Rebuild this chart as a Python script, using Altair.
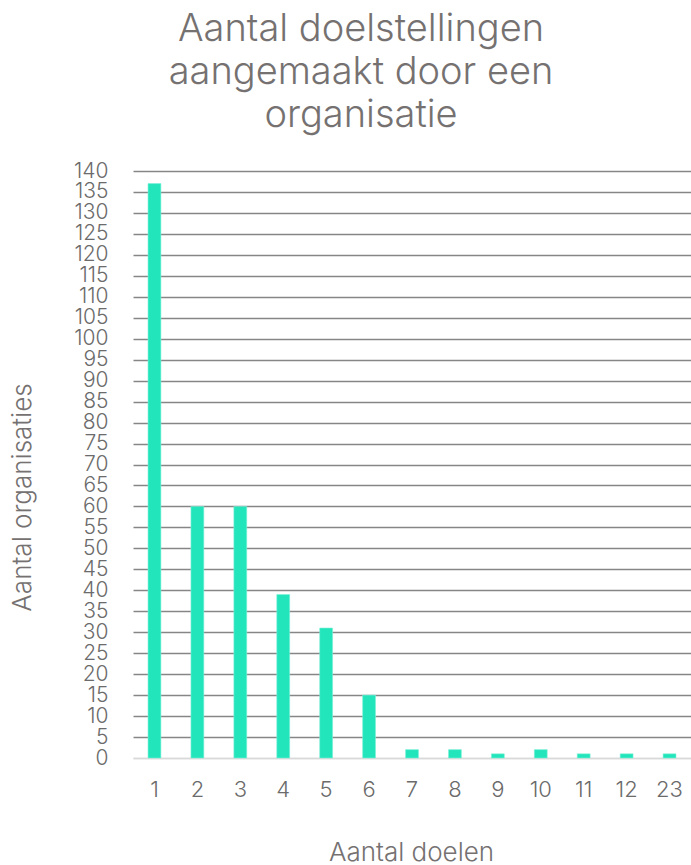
import altair as alt
import pandas as pd

# Number of goals per organisation (x) and how many organisations (y)
doelen = ["1", "2", "3", "4", "5", "6", "7", "8", "9", "10", "11", "12", "23"]
organisaties = [137, 60, 60, 39, 31, 15, 2, 2, 1, 2, 1, 1, 1]
y_ticks = list(range(0, 141, 5))

df = pd.DataFrame({"doelen": doelen, "organisaties": organisaties})

FONT = "Inter"
TEXT = "#757171"
LABEL = "#6b6b6b"

chart = (
    alt.Chart(df)
    .mark_bar(color="#22E5BC", stroke="#7FF0D6", strokeWidth=0.6)
    .encode(
        x=alt.X(
            "doelen:N",
            sort=doelen,
            scale=alt.Scale(paddingInner=0.7, paddingOuter=0.35),
            axis=alt.Axis(
                title="Aantal doelen",
                labelAngle=0,
                ticks=False,
                domain=True,
                domainColor="#d9d9d9",
                domainWidth=1.5,
                labelPadding=21,
                labelFontSize=22,
                labelFontWeight=300,
                labelColor=LABEL,
                labelFont=FONT,
                labelOverlap=False,
                titleFont=FONT,
                titleFontSize=26,
                titleFontWeight=300,
                titleColor=TEXT,
                titleX=278,
                titleY=102,
                titleBaseline="alphabetic",
            ),
        ),
        y=alt.Y(
            "organisaties:Q",
            scale=alt.Scale(domain=[0, 140], nice=False),
            axis=alt.Axis(
                title="Aantal organisaties",
                values=y_ticks,
                grid=True,
                gridColor={
                    "condition": {"test": "datum.value === 0", "value": "#d9d9d9"},
                    "value": "#868686",
                },
                gridWidth=1.3,
                ticks=False,
                domain=False,
                labelPadding=25,
                labelFontSize=21,
                labelFontWeight=300,
                labelColor=LABEL,
                labelFont=FONT,
                labelBound=False,
                labelOverlap=False,
                titleFont=FONT,
                titleFontSize=26,
                titleFontWeight=300,
                titleColor=TEXT,
                titleAngle=-90,
                titleX=-111,
                titleY=326,
                titleAlign="center",
                titleBaseline="middle",
            ),
        ),
    )
    .properties(
        width=558,
        height=587,
        padding={"left": 133, "top": 171, "right": 0, "bottom": 107},
        autosize=alt.AutoSizeParams(type="none"),
        title=alt.TitleParams(
            text=["Aantal doelstellingen", "aangemaakt door een", "organisatie"],
            font=FONT,
            fontSize=38,
            fontWeight=300,
            color=TEXT,
            lineHeight=43,
            anchor="middle",
            frame="group",
            dx=-51,
            offset=25,
        ),
    )
    .configure_view(stroke=None)
)

chart.save("out.html", embed_options={"renderer": "svg", "actions": False})
